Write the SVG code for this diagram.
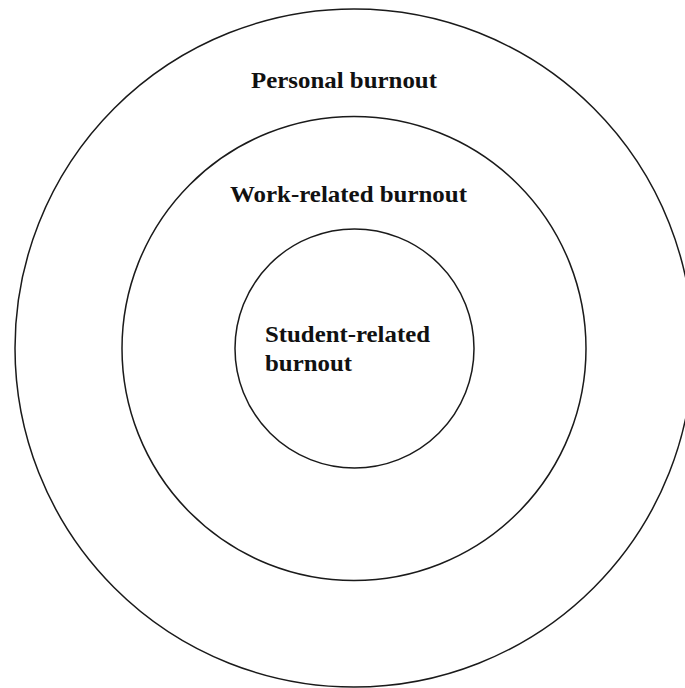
<svg xmlns="http://www.w3.org/2000/svg" width="685" height="688" viewBox="0 0 685 688">
<style>
.ring{fill:none;stroke:#1a1a1a;stroke-width:1.5}
.lbl{font-family:"Liberation Serif","Times New Roman",serif;font-weight:bold;font-size:23px;fill:#111}
</style>
<rect width="685" height="688" fill="#fff"/>
<g id="personal">
<circle class="ring" cx="354" cy="348" r="339"/>
<text class="lbl" x="251" y="88" textLength="186" lengthAdjust="spacingAndGlyphs">Personal burnout</text>
</g>
<g id="work">
<circle class="ring" cx="354" cy="348.5" r="232"/>
<text class="lbl" x="230" y="202" textLength="237" lengthAdjust="spacingAndGlyphs">Work-related burnout</text>
</g>
<g id="student">
<circle class="ring" cx="354.5" cy="348.5" r="119.5"/>
<text class="lbl" x="265" y="342" textLength="165" lengthAdjust="spacingAndGlyphs">Student-related</text>
<text class="lbl" x="265" y="371" textLength="87" lengthAdjust="spacingAndGlyphs">burnout</text>
</g>
<g id="connectors"/>
</svg>
